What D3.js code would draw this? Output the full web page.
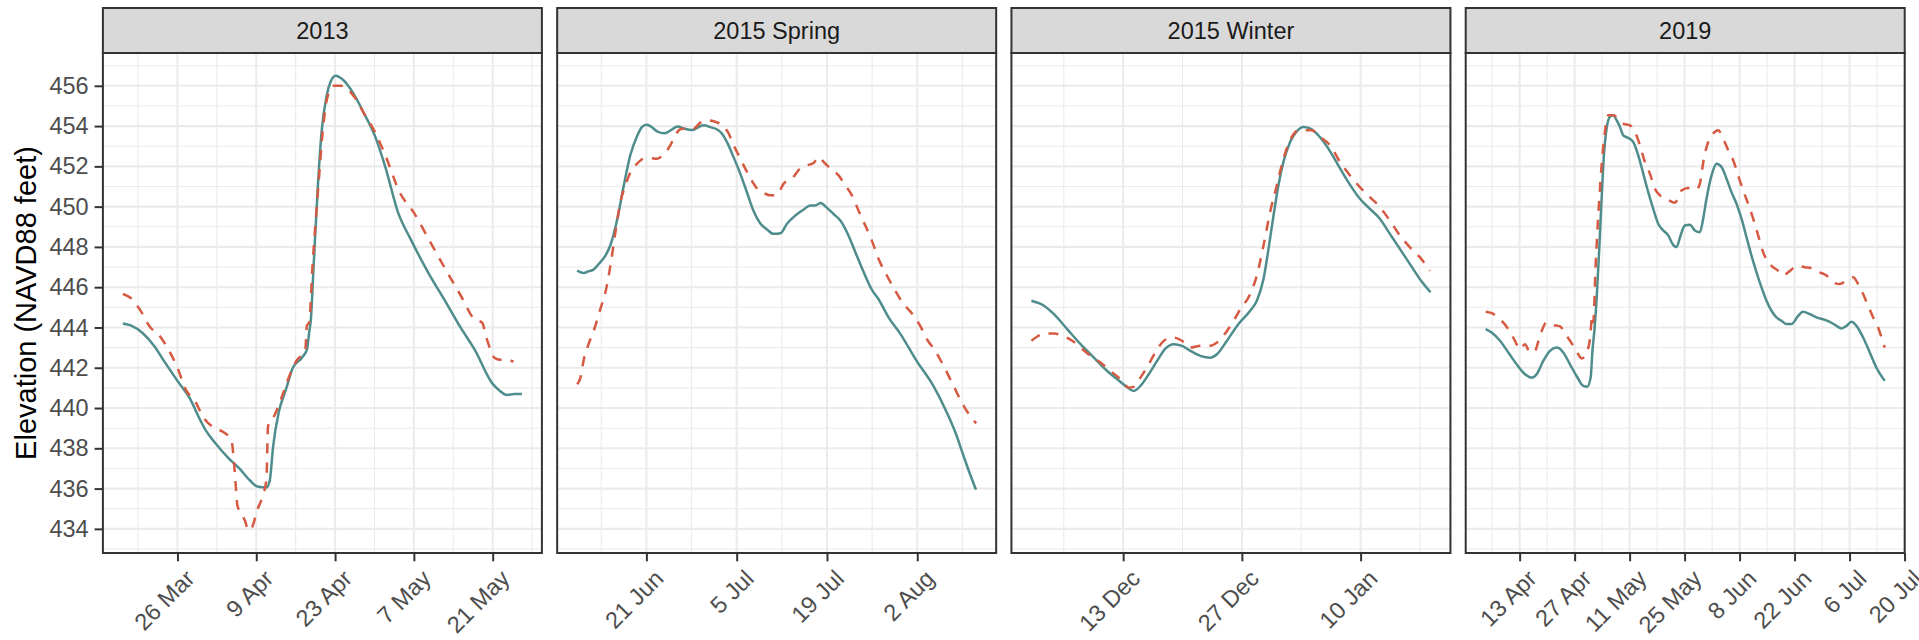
<!DOCTYPE html>
<html>
<head>
<meta charset="utf-8">
<script src="https://cdn.jsdelivr.net/npm/d3@7/dist/d3.min.js"></script>
<style>
  body { margin: 0; background: #ffffff; }
  svg { display: block; }
</style>
</head>
<body>
<svg id="chart" width="1919" height="640"></svg>
<script>
// ---------------------------------------------------------------
// Facets, date origins and ticks
// ---------------------------------------------------------------
const panels = ["2013", "2015 Spring", "2015 Winter", "2019"];

// Day offsets in the series below are counted from these dates
const origins = ["2013-03-26", "2015-06-21", "2015-12-13", "2019-04-13"];

// Major date ticks (every 14 days) for each facet
const tickDates = [
  ["2013-03-26", "2013-04-09", "2013-04-23", "2013-05-07", "2013-05-21"],
  ["2015-06-21", "2015-07-05", "2015-07-19", "2015-08-02"],
  ["2015-12-13", "2015-12-27", "2016-01-10"],
  ["2019-04-13", "2019-04-27", "2019-05-11", "2019-05-25", "2019-06-08",
   "2019-06-22", "2019-07-06", "2019-07-20"]
];

const elevTicks = [434, 436, 438, 440, 442, 444, 446, 448, 450, 452, 454, 456];

// ---------------------------------------------------------------
// Water-surface elevation, [day offset, feet NAVD88]
// ---------------------------------------------------------------
const solid2013 = [[-9.7,444.2],[-8.3,444.1],[-6.1,443.7],[-4.2,443.1],[-2.3,442.3],[0,441.35],[2.15,440.5],[4.05,439.4],[5,438.9],[6.6,438.3],[9.1,437.5],[11,437.0],[12.9,436.4],[14.2,436.1],[15.8,436.05],[16.4,436.4],[17,438.1],[18,439.8],[19.25,440.9],[20.5,442.0],[22.1,442.5],[23,442.9],[23.4,443.75],[23.7,444.4],[24.2,447.1],[24.95,451.05],[25.6,453.7],[26.5,455.5],[27.2,456.2],[28.1,456.5],[29.4,456.3],[31.3,455.6],[33.2,454.6],[35.1,453.5],[37,451.9],[39.2,449.7],[41.4,448.4],[44.6,446.7],[47.8,445.2],[50.3,444.0],[52.8,442.9],[56,441.2],[57.3,440.85],[58.5,440.65],[59.8,440.7],[61.2,440.7]];

const dashed2013 = [[-9.7,445.66],[-8.3,445.46],[-6.7,444.9],[-4.8,444.0],[-3.5,443.7],[-1.6,442.9],[0,442.0],[1.5,440.9],[3.1,440.35],[4.7,439.5],[6.6,439.0],[8.2,438.8],[9.6,438.4],[10.1,437.1],[10.7,435.1],[11.3,434.8],[12,434.4],[12.6,433.93],[13.2,434.05],[14.2,434.95],[15.1,435.6],[15.8,436.45],[16.1,439.1],[17.35,439.7],[18.6,440.6],[19.9,441.6],[21.15,442.35],[22.7,442.85],[23,444.1],[23.4,444.25],[24,447.1],[25,450.9],[25.9,454.0],[26.7,455.5],[27.8,456.0],[29,456.0],[31.3,455.5],[33.2,454.6],[35.1,453.7],[37,452.5],[39.5,450.7],[42,449.7],[44.6,448.4],[47.8,446.8],[50.3,445.6],[52.8,444.4],[54.1,444.25],[55,443.4],[56.3,442.5],[57.3,442.4],[58.5,442.4],[59.7,442.3]];

const solid2015s = [[-10.74,446.82],[-9.7,446.7],[-8.9,446.8],[-8.2,446.87],[-7.4,447.15],[-6.35,447.57],[-5.6,448.07],[-4.5,449.4],[-3.5,451.06],[-2.5,452.55],[-1.45,453.5],[-0.67,453.96],[0,454.07],[0.6,454.0],[1.65,453.74],[2.8,453.64],[4,453.84],[4.85,453.98],[5.8,453.88],[7.1,453.8],[8.1,453.95],[8.9,454.04],[9.9,453.95],[10.95,453.83],[11.7,453.63],[12.5,453.2],[13.5,452.47],[14.6,451.6],[15.6,450.7],[16.6,449.8],[17.7,449.15],[18.7,448.87],[19.7,448.65],[20.8,448.68],[21.8,449.15],[23.1,449.56],[24.4,449.86],[25.4,450.06],[26.2,450.06],[27,450.18],[28,449.94],[29,449.64],[30.1,449.3],[31.1,448.73],[32.4,447.74],[33.7,446.74],[35,445.85],[36,445.4],[37.55,444.5],[39.4,443.67],[41.9,442.34],[44.5,441.1],[46.6,439.77],[47.9,438.8],[49.2,437.6],[50.2,436.7],[51.1,435.95]];

const dashed2015s = [[-10.74,441.18],[-10.23,441.5],[-9.71,442.4],[-8.94,443.2],[-8.1,443.9],[-7.1,444.95],[-6.35,445.75],[-5.58,447.07],[-4.8,448.73],[-4.03,450.23],[-3.25,451.06],[-2.48,451.7],[-1.45,452.13],[-0.41,452.38],[0.62,452.4],[1.65,452.38],[2.69,452.6],[3.72,453.05],[4.49,453.55],[5.27,453.84],[6.3,453.88],[7.33,453.88],[8.37,454.17],[9.4,454.29],[10.43,454.24],[11.73,454.04],[12.76,453.63],[13.53,453.05],[14.57,452.38],[15.6,451.72],[16.63,451.14],[17.41,450.8],[18.44,450.64],[19.21,450.56],[20.25,450.59],[21.28,451.14],[22.57,451.39],[23.86,451.9],[24.9,452.05],[25.93,452.17],[26.7,452.47],[27.48,452.22],[28.51,451.9],[29.8,451.55],[30.84,451.06],[31.87,450.56],[32.9,449.8],[33.94,449.06],[34.97,448.3],[36.0,447.4],[37.29,446.58],[38.58,445.83],[39.88,445.16],[40.91,444.8],[42.46,444.08],[43.49,443.42],[44.78,442.84],[46.07,442.1],[47.62,441.1],[48.92,440.27],[50.21,439.6],[51.14,439.24]];

const solid2015w = [[-10.82,445.33],[-9.33,445.08],[-8.16,444.66],[-6.6,443.92],[-5.02,443.17],[-3.45,442.5],[-1.88,441.84],[-0.7,441.43],[0.27,441.1],[1.25,440.85],[2.04,441.1],[3.02,441.68],[4.0,442.34],[4.98,442.95],[5.96,443.17],[6.94,443.09],[7.92,442.84],[9.1,442.59],[10.27,442.5],[11.06,442.67],[12.24,443.34],[13.6,444.17],[14.98,444.83],[15.76,445.33],[16.55,446.41],[17.14,447.9],[17.73,449.56],[18.31,451.06],[18.9,452.22],[19.69,453.21],[20.47,453.74],[21.25,453.96],[22.04,453.88],[23.02,453.54],[24.2,452.88],[25.37,452.05],[26.55,451.22],[27.92,450.39],[29.1,449.89],[30.27,449.4],[31.45,448.65],[32.63,447.9],[33.8,447.16],[34.98,446.41],[36.24,445.75]];

const dashed2015w = [[-10.82,443.34],[-10.12,443.55],[-9.14,443.7],[-8.16,443.7],[-7.18,443.59],[-6.0,443.34],[-5.02,443.0],[-3.84,442.59],[-2.67,442.26],[-1.49,441.84],[-0.31,441.43],[0.67,441.01],[1.25,441.06],[2.04,441.51],[3.02,442.17],[4.0,442.92],[4.98,443.39],[5.96,443.5],[6.94,443.34],[7.92,443.0],[9.1,443.09],[10.27,443.09],[11.06,443.25],[12.24,443.83],[13.02,444.33],[13.8,444.9],[14.98,445.66],[15.76,446.58],[16.55,448.07],[17.33,449.73],[18.12,451.06],[18.9,452.38],[19.69,453.3],[20.47,453.74],[21.25,453.79],[22.24,453.79],[23.22,453.46],[24.39,453.05],[25.57,452.22],[26.75,451.55],[27.92,450.97],[29.1,450.47],[30.27,449.98],[31.45,449.31],[32.63,448.57],[33.8,447.99],[34.98,447.49],[36.16,446.82]];

const solid2019 = [[-8.65,443.92],[-7.12,443.75],[-5.0,443.34],[-2.88,442.76],[-0.76,442.17],[1.36,441.68],[3.05,441.51],[4.33,441.68],[6.02,442.34],[7.72,442.84],[9.41,443.0],[11.11,442.76],[12.81,442.17],[14.5,441.59],[16.2,441.1],[17.22,441.06],[18.07,441.51],[18.57,442.92],[19.1,444.0],[19.59,445.41],[20.27,447.9],[20.87,450.39],[21.46,452.55],[22.14,453.88],[22.99,454.46],[23.83,454.54],[24.68,454.29],[25.53,453.96],[26.38,453.54],[27.65,453.41],[28.92,453.21],[30.2,452.55],[31.47,451.64],[32.74,450.72],[34.01,449.89],[35.28,449.15],[36.56,448.82],[37.83,448.57],[38.93,448.15],[39.95,447.99],[40.97,448.57],[42.07,449.06],[43.34,449.1],[44.61,448.82],[45.89,448.73],[46.73,449.4],[47.58,450.39],[48.86,451.55],[50.13,452.13],[51.4,451.97],[52.67,451.39],[53.94,450.72],[55.22,450.14],[56.49,449.4],[57.76,448.48],[59.03,447.57],[60.31,446.74],[61.58,445.99],[62.85,445.33],[64.12,444.83],[65.39,444.5],[66.67,444.33],[67.94,444.17],[69.21,444.17],[70.91,444.58],[72.18,444.78],[73.88,444.66],[75.57,444.5],[77.27,444.41],[78.97,444.28],[80.66,444.08],[81.93,443.95],[83.21,444.08],[84.48,444.28],[85.75,444.08],[87.45,443.5],[89.14,442.76],[90.84,442.0],[92.96,441.35]];

const dashed2019 = [[-8.65,444.78],[-7.12,444.71],[-5.0,444.41],[-2.88,443.92],[-1.19,443.34],[0.08,442.92],[1.36,443.17],[2.63,442.76],[3.9,442.84],[5.17,443.59],[6.87,444.25],[8.57,444.12],[10.26,444.05],[11.96,443.59],[13.66,443.09],[14.93,442.67],[15.78,442.46],[17.05,442.76],[17.9,443.42],[18.49,444.58],[18.74,444.25],[19.34,447.07],[20.02,449.56],[20.87,452.05],[21.71,453.71],[22.56,454.54],[23.83,454.54],[25.1,454.37],[26.38,454.12],[28.07,454.04],[29.35,453.71],[30.62,453.05],[31.89,452.22],[33.16,451.64],[34.44,450.89],[35.71,450.56],[37.4,450.39],[39.53,450.19],[41.22,450.8],[42.92,450.92],[45.04,450.86],[45.89,451.14],[46.9,452.38],[48.0,453.21],[49.28,453.63],[50.55,453.79],[51.82,453.38],[53.1,452.8],[54.37,452.3],[55.64,451.55],[56.91,450.8],[58.19,450.14],[59.46,449.4],[60.73,448.57],[62.0,447.74],[63.27,447.24],[64.55,446.99],[65.82,446.82],[67.09,446.58],[68.36,446.74],[69.64,446.94],[70.91,447.07],[72.6,446.99],[74.3,446.94],[76.42,446.74],[78.12,446.58],[79.81,446.24],[81.51,446.16],[83.21,446.33],[84.9,446.49],[86.17,446.16],[87.45,445.66],[88.72,445.08],[90.0,444.5],[91.27,444.0],[92.54,443.25],[92.96,443.0]];

const solidSeries = [solid2013, solid2015s, solid2015w, solid2019];
const dashedSeries = [dashed2013, dashed2015s, dashed2015w, dashed2019];

// ---------------------------------------------------------------
// Layout and style
// ---------------------------------------------------------------
const FONT = "'Liberation Sans', Arial, Helvetica, sans-serif";
const panelX0 = 102.9, panelW = 439, panelStep = 454.27;
const stripTop = 8, plotTop = 53, plotBottom = 553;
const tickLen = 8.3;
const solidColor = "#4e8d8c";
const dashedColor = "#d65a42";
const gridColor = "#ebebeb";
const frameColor = "#333333";

const DAY = 864e5;
const parseDay = d3.utcParse("%Y-%m-%d");
const fmtTick = d3.utcFormat("%-d %b");

const svg = d3.select("#chart");
svg.append("rect").attr("width", 1919).attr("height", 640).attr("fill", "#ffffff");

// Shared elevation scale with 5% padding on both ends
const allElev = solidSeries.concat(dashedSeries).flatMap(s => s.map(p => p[1]));
const [eMin, eMax] = d3.extent(allElev);
const ePad = (eMax - eMin) * 0.05;
const y = d3.scaleLinear().domain([eMin - ePad, eMax + ePad]).range([plotBottom, plotTop]);

// Minor elevation grid at the midpoints between labelled ticks
const eStep = elevTicks[1] - elevTicks[0];
const elevMinor = d3.range(elevTicks[0] - eStep / 2, elevTicks[elevTicks.length - 1] + eStep, eStep)
  .filter(v => v >= y.domain()[0] && v <= y.domain()[1]);

panels.forEach((title, i) => {
  const left = panelX0 + i * panelStep;
  const right = left + panelW;
  const origin = parseDay(origins[i]);
  const toDate = d => new Date(origin.getTime() + d * DAY);

  const days = solidSeries[i].concat(dashedSeries[i]).map(p => p[0]);
  const [dMin, dMax] = d3.extent(days);
  const dPad = (dMax - dMin) * 0.05;
  const x = d3.scaleUtc().domain([toDate(dMin - dPad), toDate(dMax + dPad)]).range([left, right]);

  const majors = tickDates[i].map(parseDay);
  const step = majors[1] - majors[0];
  const minors = d3.range(majors[0].getTime() - step / 2, majors[majors.length - 1].getTime() + step, step)
    .map(t => new Date(t))
    .filter(t => t >= x.domain()[0] && t <= x.domain()[1]);

  const g = svg.append("g");

  // panel background
  g.append("rect").attr("x", left).attr("y", plotTop)
    .attr("width", panelW).attr("height", plotBottom - plotTop).attr("fill", "#ffffff");

  // minor grid
  g.append("g").selectAll("line").data(elevMinor).join("line")
    .attr("x1", left).attr("x2", right).attr("y1", d => y(d)).attr("y2", d => y(d))
    .attr("stroke", gridColor).attr("stroke-width", 1.05);
  g.append("g").selectAll("line").data(minors).join("line")
    .attr("x1", d => x(d)).attr("x2", d => x(d)).attr("y1", plotTop).attr("y2", plotBottom)
    .attr("stroke", gridColor).attr("stroke-width", 1.05);

  // major grid
  g.append("g").selectAll("line").data(elevTicks).join("line")
    .attr("x1", left).attr("x2", right).attr("y1", d => y(d)).attr("y2", d => y(d))
    .attr("stroke", gridColor).attr("stroke-width", 2.1);
  g.append("g").selectAll("line").data(majors).join("line")
    .attr("x1", d => x(d)).attr("x2", d => x(d)).attr("y1", plotTop).attr("y2", plotBottom)
    .attr("stroke", gridColor).attr("stroke-width", 2.1);

  // elevation lines
  const line = d3.line()
    .x(p => x(toDate(p[0])))
    .y(p => y(p[1]))
    .curve(d3.curveMonotoneX);

  g.append("path").datum(solidSeries[i]).attr("d", line)
    .attr("fill", "none").attr("stroke", solidColor).attr("stroke-width", 2.5)
    .attr("stroke-linejoin", "round");
  g.append("path").datum(dashedSeries[i]).attr("d", line)
    .attr("fill", "none").attr("stroke", dashedColor).attr("stroke-width", 2.5)
    .attr("stroke-dasharray", "10,9").attr("stroke-linejoin", "round");

  // panel frame
  g.append("rect").attr("x", left).attr("y", plotTop)
    .attr("width", panelW).attr("height", plotBottom - plotTop)
    .attr("fill", "none").attr("stroke", frameColor).attr("stroke-width", 2);

  // facet strip
  g.append("rect").attr("x", left).attr("y", stripTop)
    .attr("width", panelW).attr("height", plotTop - stripTop)
    .attr("fill", "#d9d9d9").attr("stroke", frameColor).attr("stroke-width", 2);
  g.append("text").attr("x", (left + right) / 2).attr("y", 39.3)
    .attr("text-anchor", "middle").attr("font-family", FONT).attr("font-size", 23.5)
    .attr("fill", "#1a1a1a").text(title);

  // date axis
  const xAxis = g.append("g").attr("transform", `translate(0,${plotBottom})`)
    .call(d3.axisBottom(x).tickValues(majors).tickFormat(fmtTick).tickSize(tickLen).tickPadding(4));
  xAxis.select(".domain").remove();
  xAxis.selectAll(".tick line").attr("stroke", frameColor).attr("stroke-width", 2);
  xAxis.selectAll(".tick text")
    .attr("y", null).attr("dy", null)
    .attr("transform", "translate(18,27) rotate(-45)")
    .attr("text-anchor", "end")
    .attr("font-family", FONT).attr("font-size", 23.5).attr("fill", "#4d4d4d");

  // elevation axis on the first facet only
  if (i === 0) {
    const yAxis = g.append("g").attr("transform", `translate(${left},0)`)
      .call(d3.axisLeft(y).tickValues(elevTicks).tickSize(tickLen).tickPadding(6));
    yAxis.select(".domain").remove();
    yAxis.selectAll(".tick line").attr("stroke", frameColor).attr("stroke-width", 2);
    yAxis.selectAll(".tick text")
      .attr("font-family", FONT).attr("font-size", 23.5).attr("fill", "#4d4d4d");
  }
});

// axis title
svg.append("text")
  .attr("transform", `translate(36,${(plotTop + plotBottom) / 2}) rotate(-90)`)
  .attr("text-anchor", "middle")
  .attr("font-family", FONT).attr("font-size", 29).attr("fill", "#000000")
  .text("Elevation (NAVD88 feet)");
</script>
</body>
</html>
